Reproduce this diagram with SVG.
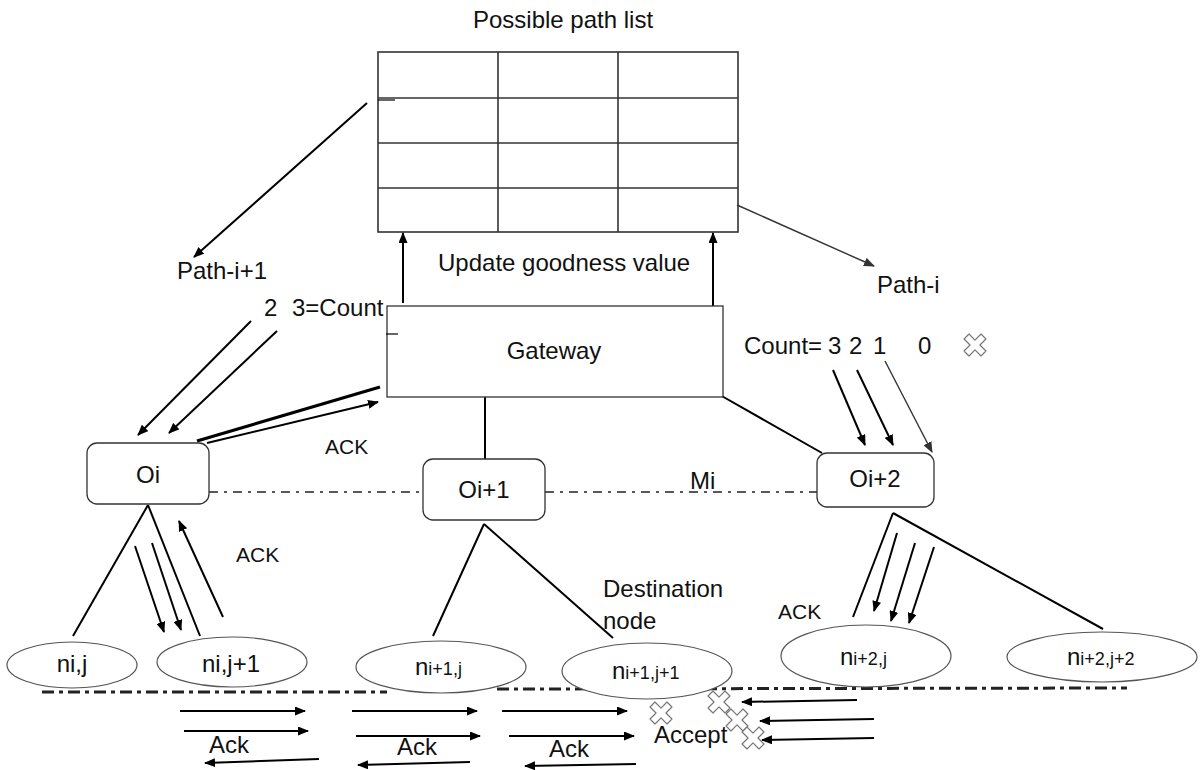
<svg xmlns="http://www.w3.org/2000/svg" width="1201" height="770" viewBox="0 0 1201 770">
<style>
text{font-family:"Liberation Sans",Arial,sans-serif;fill:#111;font-size:24px}
.ack{font-size:21px}
.sm{font-size:18px}
.box{fill:#fff;stroke:#333;stroke-width:1.3}
.ell{fill:#fff;stroke:#555;stroke-width:1.2}
.tbl{stroke:#333;stroke-width:1.6;fill:none}
.ln{stroke:#000;stroke-width:2;fill:none}
.arr{stroke:#000;stroke-width:2;fill:none;marker-end:url(#ah)}
.arrg{stroke:#333;stroke-width:1.4;fill:none;marker-end:url(#ahg)}
.dd{stroke:#222;stroke-width:1.6;fill:none;stroke-dasharray:9 6 3 6}
.ddk{stroke:#222;stroke-width:3;fill:none;stroke-dasharray:12 5 4 5}
.x{fill:#fff;stroke:#777;stroke-width:1.2;stroke-linejoin:round}
</style>
<defs>
<marker id="ah" viewBox="0 0 11 9" refX="10" refY="4.5" markerWidth="11" markerHeight="9" markerUnits="userSpaceOnUse" orient="auto"><path d="M0,0 L11,4.5 L0,9 z" fill="#000"/></marker>
<marker id="ahg" viewBox="0 0 11 9" refX="10" refY="4.5" markerWidth="11" markerHeight="9" markerUnits="userSpaceOnUse" orient="auto"><path d="M0,0 L11,4.5 L0,9 z" fill="#333"/></marker>
<path id="cross" class="x" transform="rotate(45)" d="M-3.5,-12 L3.5,-12 L3.5,-3.5 L12,-3.5 L12,3.5 L3.5,3.5 L3.5,12 L-3.5,12 L-3.5,3.5 L-12,3.5 L-12,-3.5 L-3.5,-3.5 Z"/>
</defs>
<rect width="1201" height="770" fill="#fff"/>

<text x="563" y="28" text-anchor="middle">Possible path list</text>

<g id="table">
<rect class="tbl" x="378" y="52" width="360" height="180"/>
<line class="tbl" x1="378" y1="98" x2="738" y2="98"/>
<line class="tbl" x1="378" y1="143" x2="738" y2="143"/>
<line class="tbl" x1="378" y1="188" x2="738" y2="188"/>
<line class="tbl" x1="498" y1="52" x2="498" y2="232"/>
<line class="tbl" x1="618" y1="52" x2="618" y2="232"/>
<line x1="378" y1="100" x2="395" y2="100" stroke="#000" stroke-width="1.2"/>
</g>

<g id="connectors">
<!-- dash-dot lines -->
<line class="dd" x1="209" y1="492" x2="423" y2="492"/>
<line class="dd" x1="545" y1="492" x2="817" y2="492"/>
<line class="ddk" x1="42" y1="692" x2="387" y2="692"/>
<line class="ddk" x1="497" y1="689" x2="1127" y2="688" stroke-width="2.2"/>
<!-- table / path arrows -->
<line class="arr" x1="367" y1="103" x2="194" y2="257"/>
<line class="arrg" x1="737" y1="205" x2="874" y2="266"/>
<line class="arr" x1="403" y1="303" x2="403" y2="233"/>
<line class="arr" x1="713" y1="310" x2="713" y2="233"/>
<!-- gateway links -->
<line class="ln" x1="485" y1="397" x2="485" y2="459"/>
<line class="ln" x1="720" y1="395" x2="822" y2="453"/>
<line x1="380" y1="387" x2="197" y2="441" stroke="#000" stroke-width="3.2"/>
<line class="arr" x1="207" y1="443" x2="378" y2="402"/>
<!-- count arrows left -->
<line class="arr" x1="251" y1="321" x2="138" y2="435"/>
<line class="arr" x1="277" y1="331" x2="169" y2="433"/>
<!-- count arrows right -->
<line class="arr" x1="833" y1="370" x2="865" y2="445"/>
<line class="arr" x1="857" y1="370" x2="893" y2="445"/>
<line class="arrg" x1="885" y1="361" x2="932" y2="452"/>
<!-- Oi children -->
<line class="ln" x1="148" y1="505" x2="73" y2="636"/>
<line class="ln" x1="148" y1="505" x2="200" y2="636"/>
<line class="arr" x1="135" y1="546" x2="164" y2="632"/>
<line class="arr" x1="152" y1="543" x2="181" y2="630"/>
<line class="arr" x1="223" y1="617" x2="179" y2="521"/>
<!-- Oi+1 children -->
<line class="ln" x1="484" y1="524" x2="433" y2="636"/>
<line class="ln" x1="484" y1="524" x2="613" y2="638"/>
<!-- Oi+2 children -->
<line class="ln" x1="893" y1="513" x2="853" y2="617"/>
<line class="ln" x1="893" y1="513" x2="1103" y2="629"/>
<line class="arr" x1="897" y1="533" x2="874" y2="611"/>
<line class="arr" x1="915" y1="543" x2="891" y2="621"/>
<line class="arr" x1="934" y1="547" x2="909" y2="623"/>
<!-- bottom arrows -->
<line class="arr" x1="180" y1="711" x2="305" y2="711"/>
<line class="arr" x1="184" y1="731" x2="308" y2="731" stroke-width="2.6"/>
<line class="arr" x1="319" y1="759" x2="205" y2="763"/>
<line class="arr" x1="352" y1="711" x2="477" y2="711"/>
<line class="arr" x1="356" y1="736" x2="480" y2="736"/>
<line class="arr" x1="470" y1="762" x2="358" y2="765"/>
<line class="arr" x1="502" y1="711" x2="627" y2="711"/>
<line class="arr" x1="509" y1="736" x2="634" y2="736"/>
<line class="arr" x1="636" y1="764" x2="525" y2="766" stroke-width="3"/>
<line class="arr" x1="857" y1="700" x2="742" y2="702"/>
<line class="arr" x1="874" y1="719" x2="760" y2="721"/>
<line class="arr" x1="874" y1="738" x2="762" y2="740"/>
</g>

<g id="gateway">
<rect class="box" x="387" y="306" width="336" height="91"/>
<line x1="386" y1="334" x2="398" y2="334" stroke="#000" stroke-width="1.2"/>
<text x="554" y="359" text-anchor="middle">Gateway</text>
</g>

<g id="Oi">
<rect class="box" x="87" y="443" width="122" height="61" rx="10"/>
<text x="148" y="483" text-anchor="middle">Oi</text>
</g>
<g id="Oi1">
<rect class="box" x="423" y="459" width="122" height="61" rx="10"/>
<text x="484" y="498" text-anchor="middle">Oi+1</text>
</g>
<g id="Oi2">
<rect class="box" x="817" y="453" width="117" height="54" rx="10"/>
<text x="875" y="487" text-anchor="middle">Oi+2</text>
</g>

<g id="nij">
<ellipse class="ell" cx="72" cy="665" rx="65" ry="23"/>
<text x="72" y="672" text-anchor="middle" font-size="25">ni,j</text>
</g>
<g id="nij1">
<ellipse class="ell" cx="232" cy="662" rx="75" ry="25"/>
<text x="231" y="672" text-anchor="middle" font-size="25">ni,j+1</text>
</g>
<g id="ni1j">
<ellipse class="ell" cx="441" cy="667" rx="85" ry="26"/>
<text x="415" y="675" font-size="25">n<tspan class="sm">i+1,j</tspan></text>
</g>
<g id="ni1j1">
<ellipse class="ell" cx="647" cy="671" rx="85" ry="28"/>
<text x="612" y="679" font-size="25">n<tspan class="sm">i+1,j+1</tspan></text>
</g>
<g id="ni2j">
<ellipse class="ell" cx="866" cy="656" rx="85" ry="31"/>
<text x="840" y="665" font-size="25">n<tspan class="sm">i+2,j</tspan></text>
</g>
<g id="ni2j2">
<ellipse class="ell" cx="1102" cy="657" rx="95" ry="25"/>
<text x="1067" y="665" font-size="25">n<tspan class="sm">i+2,j+2</tspan></text>
</g>

<g id="labels">
<text x="438" y="271">Update goodness value</text>
<text x="177" y="279" font-size="23.5">Path-i+1</text>
<text x="264" y="316">2</text>
<text x="292" y="316">3=Count</text>
<text x="877" y="293" font-size="23">Path-i</text>
<text x="744" y="354">Count=</text>
<text x="828" y="354">3</text>
<text x="849" y="354">2</text>
<text x="873" y="354">1</text>
<text x="918" y="354">0</text>
<text class="ack" x="325" y="454">ACK</text>
<text class="ack" x="236" y="562">ACK</text>
<text class="ack" x="778" y="619">ACK</text>
<text x="690" y="489">Mi</text>
<text x="603" y="597">Destination</text>
<text x="603" y="629">node</text>
<text x="209" y="753" font-size="23">Ack</text>
<text x="397" y="755" font-size="23">Ack</text>
<text x="549" y="757" font-size="23">Ack</text>
<text x="654" y="743">Accept</text>
</g>

<g id="crosses">
<use href="#cross" x="975" y="345"/>
<use href="#cross" x="661" y="713"/>
<use href="#cross" x="719" y="702"/>
<use href="#cross" x="737" y="720"/>
<use href="#cross" x="753" y="738"/>
</g>
</svg>
